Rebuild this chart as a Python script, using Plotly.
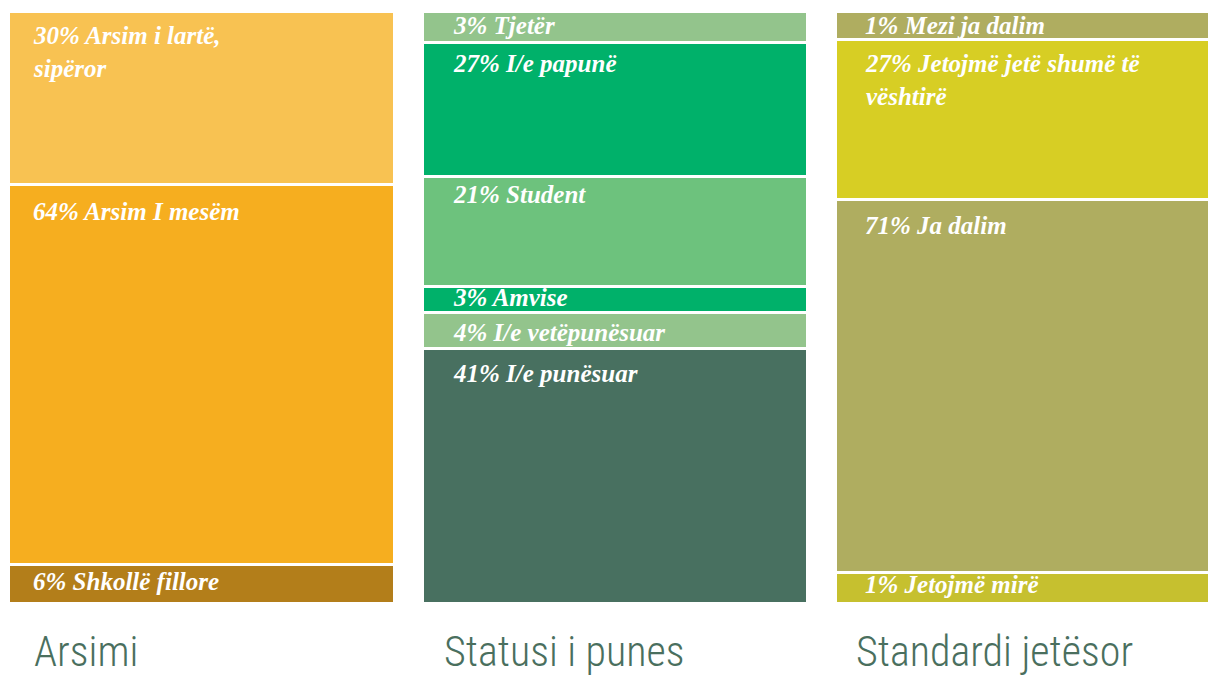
import plotly.graph_objects as go

# ---- data ----
columns = ["Arsimi", "Statusi i punes", "Standardi jetësor"]

# segments listed bottom -> top
arsimi_names = ["Shkollë fillore", "Arsim I mesëm", "Arsim i lartë,<br>sipëror"]
arsimi_pct = [6, 64, 30]
arsimi_heights = [6.5, 64.2, 29.3]          # drawn share of the column

statusi_names = ["I/e punësuar", "I/e vetëpunësuar", "Amvise", "Student", "I/e papunë", "Tjetër"]
statusi_pct = [41, 4, 3, 21, 27, 3]
statusi_heights = [43.0, 6.0, 4.5, 18.5, 22.7, 5.3]

standard_names = ["Jetojmë mirë", "Ja dalim", "Jetojmë jetë shumë të<br>vështirë", "Mezi ja dalim"]
standard_pct = [1, 71, 27, 1]
standard_heights = [5.2, 62.9, 27.1, 4.8]

# ---- styles ----
arsimi_colors = ["#B37E1A", "#F6AE1F", "#F8C252"]
statusi_colors = ["#487060", "#93C48C", "#00B16A", "#6DC27D", "#00B16A", "#93C48C"]
standard_colors = ["#C6C02F", "#AFAD60", "#D7CE24", "#AFAD60"]

arsimi_yshift = [-1, -12, -9]
statusi_yshift = [-10, -4, 4, -2, -6, 1]
standard_yshift = [3, -10, -9, 1]

label_xshift = [22, 29, 27]
title_xshift = [23, 20, 18]

BAR_W = 0.9324
LABEL_FONT = dict(family="Liberation Serif, Times New Roman, serif", size=25, color="white")
TITLE_FONT = dict(family="Roboto Condensed, Liberation Sans Narrow, DejaVu Sans Condensed, sans-serif",
                  size=42, color="#4A6F5E", weight=300)

groups = [
    (arsimi_names, arsimi_pct, arsimi_heights, arsimi_colors, arsimi_yshift),
    (statusi_names, statusi_pct, statusi_heights, statusi_colors, statusi_yshift),
    (standard_names, standard_pct, standard_heights, standard_colors, standard_yshift),
]

fig = go.Figure()
annotations = []
for ci, (names, pct, heights, colors, yshifts) in enumerate(groups):
    cum = 0.0
    for name, p, h, col, ys in zip(names, pct, heights, colors, yshifts):
        fig.add_trace(go.Bar(
            x=[ci], y=[h], width=BAR_W,
            marker=dict(color=col, line=dict(color="white", width=3)),
            hoverinfo="skip", showlegend=False,
        ))
        cum += h
        annotations.append(dict(
            x=ci - BAR_W / 2, y=cum, xref="x", yref="y",
            xanchor="left", yanchor="top", align="left",
            xshift=label_xshift[ci], yshift=ys,
            text=f"<b><i>{p}% {name}</i></b>", showarrow=False,
            font=LABEL_FONT,
        ))
    annotations.append(dict(
        x=ci - BAR_W / 2, y=0, xref="x", yref="paper",
        xanchor="left", yanchor="top", align="left",
        xshift=title_xshift[ci], yshift=-22,
        text=columns[ci], showarrow=False, font=TITLE_FONT,
    ))

fig.update_layout(
    width=1208, height=677,
    barmode="stack",
    margin=dict(l=0, r=0, t=10.5, b=73.5, pad=0),
    paper_bgcolor="white", plot_bgcolor="white",
    xaxis=dict(range=[-0.4868, 2.4336], visible=False, fixedrange=True),
    yaxis=dict(range=[0, 100], visible=False, fixedrange=True),
    annotations=annotations,
    showlegend=False,
)

fig.write_html("out.html", config={"displayModeBar": False})
